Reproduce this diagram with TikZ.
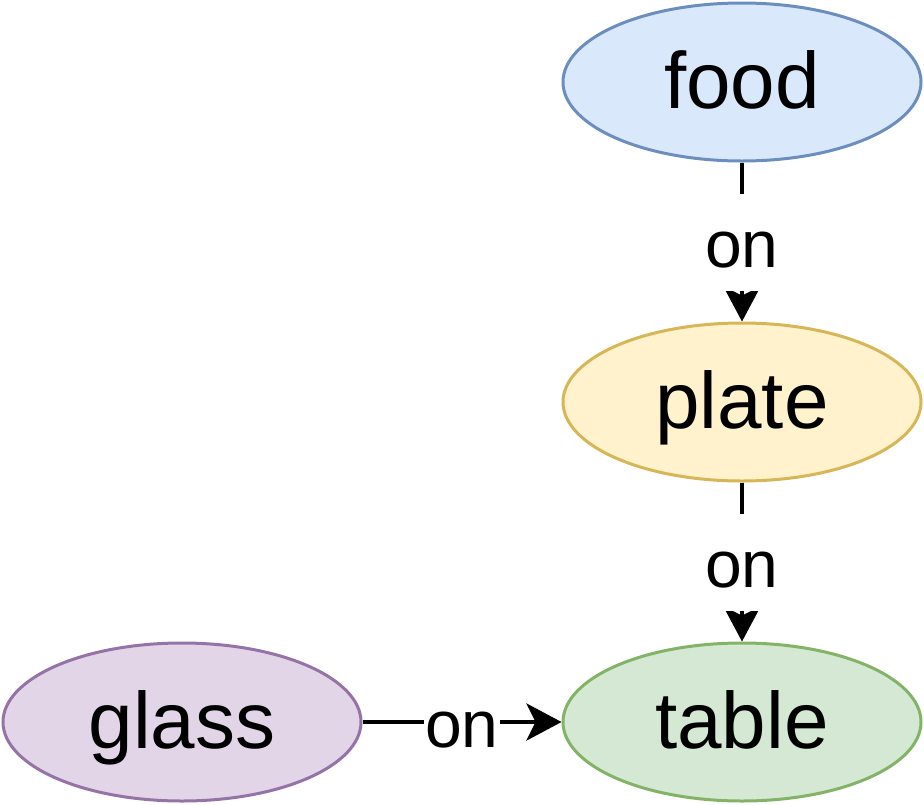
\documentclass[tikz,border=0pt]{standalone}
\usepackage{fontspec}
\setmainfont{Liberation Sans}
\usetikzlibrary{shapes.geometric,arrows.meta}
\definecolor{bluef}{HTML}{DAE8FC}\definecolor{blued}{HTML}{6C8EBF}
\definecolor{yellowf}{HTML}{FFF2CC}\definecolor{yellowd}{HTML}{D6B656}
\definecolor{greenf}{HTML}{D5E8D4}\definecolor{greend}{HTML}{82B366}
\definecolor{purplef}{HTML}{E1D5E7}\definecolor{purpled}{HTML}{9673A6}
\begin{document}
\begin{tikzpicture}[x=1pt,y=-1pt,
  ent/.style={ellipse, minimum width=358pt, minimum height=158pt, inner sep=0pt,
    line width=3pt, text height=70pt, text depth=18pt,
    font=\fontsize{80}{96}\selectfont},
  rel/.style={line width=4pt, -{Stealth[length=35pt,width=37pt,inset=9pt]}},
  lbl/.style={fill=white, inner xsep=1pt, inner ysep=0pt, text height=74pt,
    text depth=23pt, font=\fontsize{66}{80}\selectfont}]
\useasboundingbox (0,0) rectangle (924,804);
\node[ent, fill=bluef, draw=blued] (food) at (742,82) {food};
\node[ent, fill=yellowf, draw=yellowd] (plate) at (742,402) {plate};
\node[ent, fill=greenf, draw=greend] (table) at (742,722) {table};
\node[ent, fill=purplef, draw=purpled] (glass) at (182,722) {glass};
\draw[rel] (food) -- node[lbl] (l1) {on} (plate);
\draw[rel] (plate) -- node[lbl] (l2) {on} (table);
\draw[rel] (glass) -- node[lbl] (l3) {on} (table);
\end{tikzpicture}
\end{document}
